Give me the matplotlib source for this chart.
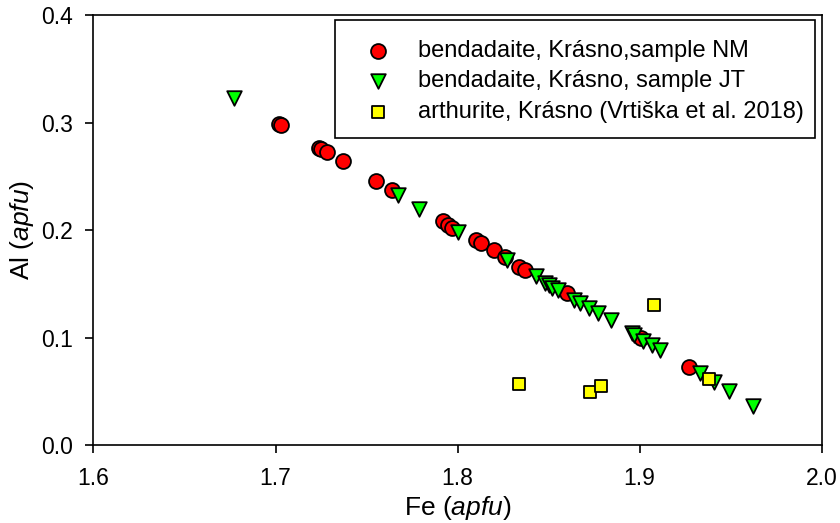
import matplotlib
matplotlib.use('Agg')
import matplotlib.pyplot as plt
from matplotlib.patches import Rectangle

plt.rcParams['font.family'] = ['Liberation Sans', 'DejaVu Sans']
plt.rcParams['mathtext.fontset'] = 'custom'
plt.rcParams['mathtext.rm'] = 'Liberation Sans'
plt.rcParams['mathtext.it'] = 'Liberation Sans:italic'

# bendadaite, sample NM
nm_fe = [1.702, 1.703, 1.724, 1.725, 1.728, 1.737, 1.755, 1.764, 1.792, 1.795,
         1.797, 1.810, 1.813, 1.820, 1.826, 1.834, 1.837, 1.860, 1.901, 1.927]
nm_al = [0.299, 0.298, 0.276, 0.275, 0.273, 0.264, 0.246, 0.237, 0.208, 0.205,
         0.202, 0.191, 0.188, 0.181, 0.175, 0.166, 0.163, 0.141, 0.100, 0.073]

# bendadaite, sample JT
jt_fe = [1.677, 1.767, 1.779, 1.800, 1.827, 1.843, 1.848, 1.850, 1.852, 1.855,
         1.864, 1.867, 1.872, 1.877, 1.884, 1.896, 1.897, 1.902, 1.907, 1.911,
         1.933, 1.941, 1.949, 1.962]
jt_al = [0.323, 0.233, 0.220, 0.198, 0.172, 0.157, 0.151, 0.149, 0.146, 0.144,
         0.135, 0.132, 0.127, 0.123, 0.116, 0.104, 0.102, 0.097, 0.093, 0.088,
         0.067, 0.059, 0.050, 0.036]

# arthurite (Vrtiska et al. 2018)
ar_fe = [1.834, 1.873, 1.879, 1.908, 1.938]
ar_al = [0.057, 0.049, 0.055, 0.130, 0.061]

labels = ['bendadaite, Krásno,sample NM',
          'bendadaite, Krásno, sample JT',
          'arthurite, Krásno (Vrtiška et al. 2018)']

fig = plt.figure(figsize=(8.4, 5.23), dpi=100)
ax = fig.add_axes([0.1113, 0.1491, 0.8669, 0.8222])

ax.scatter(nm_fe, nm_al, s=115, marker='o', c='#ff0000', edgecolors='black',
           linewidths=1.3, label=labels[0], zorder=3)
ax.scatter(jt_fe, jt_al, s=110, marker='v', c='#00ff00', edgecolors='black',
           linewidths=1.3, label=labels[1], zorder=4)
ax.scatter(ar_fe, ar_al, s=85, marker='s', c='#ffff00', edgecolors='black',
           linewidths=1.3, label=labels[2], zorder=5)

ax.set_xlim(1.6, 2.0)
ax.set_ylim(0.0, 0.4)
ax.set_xticks([1.6, 1.7, 1.8, 1.9, 2.0])
ax.set_yticks([0.0, 0.1, 0.2, 0.3, 0.4])
ax.set_xticklabels(['1.6', '1.7', '1.8', '1.9', '2.0'])
ax.set_yticklabels(['0.0', '0.1', '0.2', '0.3', '0.4'])
ax.tick_params(direction='out', length=5.5, width=1.2, labelsize=16.5)
ax.tick_params(axis='x', pad=10)
ax.tick_params(axis='y', pad=9)
for sp in ax.spines.values():
    sp.set_linewidth(1.2)

ax.set_xlabel(r'Fe ($\mathit{apfu}$)', fontsize=19, labelpad=3)
ax.set_ylabel(r'Al ($\mathit{apfu}$)', fontsize=19, labelpad=4)

# legend box drawn separately, entries placed inside it
ax.add_patch(Rectangle((0.3316, 0.714), 0.6592, 0.2744, transform=ax.transAxes,
                       facecolor='white', edgecolor='black', linewidth=1.2,
                       zorder=6))
leg = ax.legend(loc='upper left', bbox_to_anchor=(0.374, 0.942),
                fontsize=17, frameon=False, borderpad=0,
                handlelength=1.0, handletextpad=1.2, labelspacing=0.36,
                borderaxespad=0, scatterpoints=1)
leg.set_zorder(7)

fig.savefig('out.png', dpi=100)
